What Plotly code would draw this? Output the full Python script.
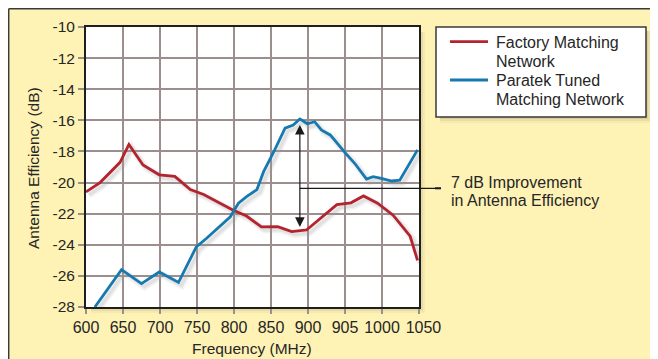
import plotly.graph_objects as go

# ---------------- data ----------------
factory_freq = [600, 619, 646, 658, 677, 699, 720, 741, 759, 781, 799, 817, 837,
                859, 878, 898, 918, 939, 958, 975, 994, 1015, 1038, 1048]
factory_eff = [-20.6, -20.0, -18.7, -17.55, -18.87, -19.5, -19.6, -20.45, -20.77,
               -21.33, -21.78, -22.15, -22.85, -22.83, -23.15, -23.05, -22.25,
               -21.42, -21.3, -20.86, -21.33, -22.1, -23.45, -25.0]

paratek_freq = [612, 648, 675, 699, 725, 749, 763, 795, 806, 817, 831, 840, 853,
                869, 880, 889, 899, 909, 918, 930, 950, 963, 979, 988, 999, 1013,
                1024, 1048]
paratek_eff = [-28.0, -25.6, -26.5, -25.75, -26.42, -24.14, -23.58, -22.2, -21.33,
               -20.9, -20.45, -19.3, -18.1, -16.5, -16.3, -15.91, -16.22, -16.09,
               -16.62, -16.94, -18.08, -18.76, -19.77, -19.62, -19.73, -19.9,
               -19.85, -17.9]

x_tick_vals = [600, 650, 700, 750, 800, 850, 900, 950, 1000, 1050]
x_tick_text = ["600", "650", "700", "750", "800", "850", "900", "905", "1000",
               "\u00a0\u00a01050"]
y_tick_vals = [-28, -26, -24, -22, -20, -18, -16, -14, -12, -10]
y_tick_text = ["-28", "-26", "-24", "-22", "-20", "-18", "-16", "-14", "-12", "-10"]

series_names = ["Factory Matching", "Network", "Paratek Tuned", "Matching Network"]
note_lines = ["7 dB Improvement", "in Antenna Efficiency"]
x_title = "Frequency (MHz)"
y_title = "Antenna Efficiency (dB)"
arrow_freq = 889
arrow_top = -16.3
arrow_bottom = -22.95
arrow_level = -20.37

# ---------------- layout geometry (screen pixels; page body has an 8px margin) ----------------
W, H = 658, 359
OFF = 8
L, R, T, B = 86, 419, 27, 307
X_RANGE = [600, 1050]
Y_RANGE = [-28, -10]
SHADOW_DX, SHADOW_DY = 3, 3   # drop-shadow offset in pixels

RED = "#B3242E"
BLUE = "#1679B0"
GRID = "#9D8E8E"
TEXT = "#262626"
BG = "#FEF2B5"
FONT = "Liberation Sans, Arial, sans-serif"


def px(x):
    return (x - L) / (R - L)


def py(y):
    return (B - y) / (B - T)


def val_py(v):
    return (v - Y_RANGE[0]) / (Y_RANGE[1] - Y_RANGE[0])


def val_px(v):
    return (v - X_RANGE[0]) / (X_RANGE[1] - X_RANGE[0])


# ranges for the shadow axes (same data drawn a few pixels lower-right)
x_per_px = (X_RANGE[1] - X_RANGE[0]) / (R - L)
y_per_px = (Y_RANGE[1] - Y_RANGE[0]) / (B - T)
X_SHADOW = [X_RANGE[0] - SHADOW_DX * x_per_px, X_RANGE[1] - SHADOW_DX * x_per_px]
Y_SHADOW = [Y_RANGE[0] + SHADOW_DY * y_per_px, Y_RANGE[1] + SHADOW_DY * y_per_px]

fig = go.Figure()
for fx, fy in [(factory_freq, factory_eff), (paratek_freq, paratek_eff)]:
    fig.add_trace(go.Scatter(x=fx, y=fy, mode="lines", xaxis="x2", yaxis="y2",
                             line=dict(color="#9a9a9a", width=7), opacity=0.12,
                             showlegend=False, hoverinfo="skip"))
    fig.add_trace(go.Scatter(x=fx, y=fy, mode="lines", xaxis="x2", yaxis="y2",
                             line=dict(color="#9a9a9a", width=3.5), opacity=0.18,
                             showlegend=False, hoverinfo="skip"))
fig.add_trace(go.Scatter(x=factory_freq, y=factory_eff, mode="lines", xaxis="x3", yaxis="y3",
                         line=dict(color=RED, width=2.8), showlegend=False))
fig.add_trace(go.Scatter(x=paratek_freq, y=paratek_eff, mode="lines", xaxis="x3", yaxis="y3",
                         line=dict(color=BLUE, width=2.8), showlegend=False))

shapes = []
# dark border along top and left edges of the figure
shapes.append(dict(type="line", xref="paper", yref="paper", x0=px(OFF + 0.7), x1=px(W + 20),
                   y0=py(OFF + 0.7), y1=py(OFF + 0.7), line=dict(color="#3a3a3a", width=1.5)))
shapes.append(dict(type="line", xref="paper", yref="paper", x0=px(OFF + 0.7), x1=px(OFF + 0.7),
                   y0=py(OFF + 0.7), y1=py(H + 20), line=dict(color="#3a3a3a", width=1.5)))

# plot-area shadow (outside the plot only)
for i, op in enumerate([0.18, 0.12, 0.07]):
    d = 2 + 2 * i
    shapes.append(dict(type="rect", xref="paper", yref="paper", x0=px(R), x1=px(R + d),
                       y0=py(B + d), y1=py(T + 5), fillcolor="#8a7a50", opacity=op,
                       line=dict(width=0), layer="below"))
    shapes.append(dict(type="rect", xref="paper", yref="paper", x0=px(L + 5), x1=px(R),
                       y0=py(B + d), y1=py(B), fillcolor="#8a7a50", opacity=op,
                       line=dict(width=0), layer="below"))

# legend box with shadow
LX0, LX1, LY0, LY1 = 436, 646, 27, 117
for i, op in enumerate([0.16, 0.10, 0.06]):
    d = 2 + 2 * i
    shapes.append(dict(type="rect", xref="paper", yref="paper", x0=px(LX0 + 4), x1=px(LX1 + d),
                       y0=py(LY1 + d), y1=py(LY0 + 4), fillcolor="#8a7a50", opacity=op,
                       line=dict(width=0)))
shapes.append(dict(type="rect", xref="paper", yref="paper", x0=px(LX0), x1=px(LX1),
                   y0=py(LY1), y1=py(LY0), fillcolor="white",
                   line=dict(color="#3a3a3a", width=1.5)))
shapes.append(dict(type="line", xref="paper", yref="paper", x0=px(450), x1=px(488),
                   y0=py(41.7), y1=py(41.7), line=dict(color=RED, width=2.8)))
shapes.append(dict(type="line", xref="paper", yref="paper", x0=px(450), x1=px(488),
                   y0=py(80), y1=py(80), line=dict(color=BLUE, width=2.8)))

# horizontal pointer line from the arrow to the note
shapes.append(dict(type="line", xref="paper", yref="paper", x0=val_px(arrow_freq), x1=px(441),
                   y0=val_py(arrow_level), y1=val_py(arrow_level),
                   line=dict(color="#1a1a1a", width=1.2)))
shapes.append(dict(type="line", xref="paper", yref="paper", x0=px(435), x1=px(441),
                   y0=val_py(arrow_level), y1=val_py(arrow_level),
                   line=dict(color="#1a1a1a", width=2)))

annotations = []
for txt, yc in zip(series_names, [42.7, 61, 80, 99]):
    annotations.append(dict(xref="paper", yref="paper", x=px(494), y=py(yc), text=txt,
                            showarrow=False, xanchor="left", yanchor="middle",
                            font=dict(family=FONT, size=16, color=TEXT)))
for txt, yc in zip(note_lines, [182.7, 200.7]):
    annotations.append(dict(xref="paper", yref="paper", x=px(449), y=py(yc), text=txt,
                            showarrow=False, xanchor="left", yanchor="middle",
                            font=dict(family=FONT, size=16, color=TEXT)))
# axis titles
annotations.append(dict(xref="paper", yref="paper", x=px(252), y=py(348), text=x_title,
                        showarrow=False, xanchor="center", yanchor="middle",
                        font=dict(family=FONT, size=15.5, color=TEXT)))
annotations.append(dict(xref="paper", yref="paper", x=px(33), y=py(168), text=y_title,
                        showarrow=False, xanchor="center", yanchor="middle", textangle=-90,
                        font=dict(family=FONT, size=15.5, color=TEXT)))
# double-headed arrow
annotations.append(dict(x=arrow_freq, y=arrow_top, ax=arrow_freq, ay=arrow_bottom,
                        xref="x", yref="y", axref="x", ayref="y", text="",
                        showarrow=True, arrowhead=2, arrowside="end+start",
                        arrowsize=1.6, arrowwidth=1.2, arrowcolor="#1a1a1a",
                        standoff=0, startstandoff=0))

hidden = dict(visible=False, showgrid=False, zeroline=False, automargin=False)

fig.update_layout(
    width=W, height=H,
    margin=dict(l=L - OFF, r=W - (R - OFF), t=T - OFF, b=H - (B - OFF), pad=0, autoexpand=False),
    paper_bgcolor=BG, plot_bgcolor="white",
    font=dict(family=FONT, color=TEXT),
    showlegend=False,
    shapes=shapes, annotations=annotations,
    xaxis=dict(range=X_RANGE, tickvals=x_tick_vals, ticktext=x_tick_text, tickangle=0,
               showgrid=True, gridcolor=GRID, gridwidth=2, automargin=False,
               ticks="outside", ticklen=5, tickwidth=2, tickcolor=GRID,
               showline=True, mirror=True, linecolor="#1f1f1f", linewidth=2,
               zeroline=False, tickfont=dict(size=16, color=TEXT)),
    yaxis=dict(range=Y_RANGE, tickvals=y_tick_vals, ticktext=y_tick_text,
               showgrid=True, gridcolor=GRID, gridwidth=2, automargin=False,
               ticks="outside", ticklen=6, tickwidth=2, tickcolor=GRID,
               showline=True, mirror=True, linecolor="#1f1f1f", linewidth=2,
               zeroline=False, tickfont=dict(size=15.5, color=TEXT)),
    xaxis2=dict(overlaying="x", range=X_SHADOW, **hidden),
    yaxis2=dict(overlaying="y", range=Y_SHADOW, **hidden),
    xaxis3=dict(overlaying="x", range=X_RANGE, **hidden),
    yaxis3=dict(overlaying="y", range=Y_RANGE, **hidden),
)

fig.write_html("out.html")
